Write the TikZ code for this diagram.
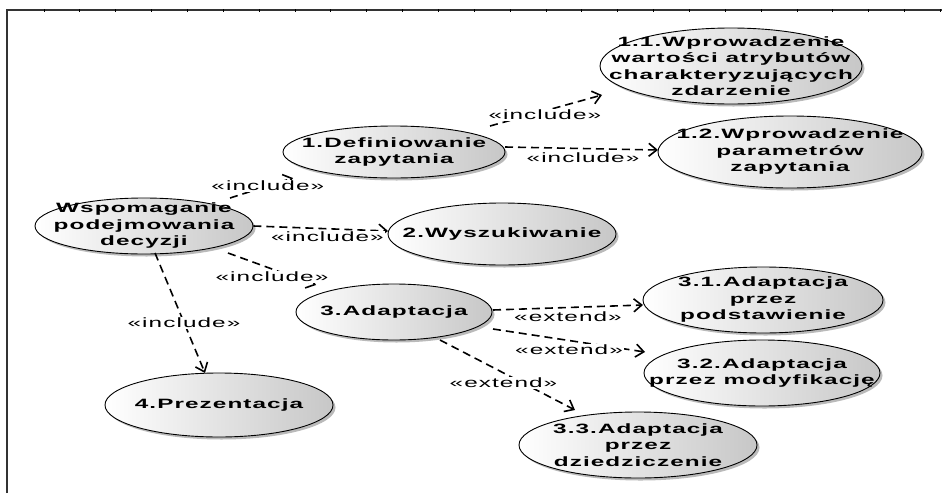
\documentclass[tikz,border=0pt]{standalone}
\usepackage{fontspec}
\setmainfont[FakeStretch=1.8,LetterSpace=8]{Liberation Sans}
\usetikzlibrary{shapes}
\usetikzlibrary{arrows.meta}
\usetikzlibrary{shadows}

\begin{document}
\begin{tikzpicture}[x=1pt,y=-1pt]
	\tikzstyle{usecase}=[ellipse,draw,line width=0.9pt,left color=white,right color=black!22,drop shadow={shadow xshift=2.5pt,shadow yshift=-2.5pt,fill=black!45,opacity=0.6},font=\fontsize{13.5}{16.5}\selectfont\bfseries,align=center,inner xsep=-45pt,inner ysep=-14pt]
	\tikzstyle{dep}=[dash pattern=on 8pt off 5pt,line width=1.6pt,-{Straight Barb[length=8pt,width=13pt]}]
	\tikzstyle{lbl}=[fill=white,inner sep=1pt,font=\fontsize{13.5}{16}\selectfont]
	\useasboundingbox (0,0) rectangle (942,493);
	\draw[line width=1.6pt,black!80] (7,493) -- (7,10) -- (942,10);
	\foreach \k in {0,...,25}
		\draw[line width=1pt] (44+35.86*\k,9) -- (44+35.86*\k,12);
	\node[usecase,minimum width=218pt,minimum height=56pt] (wsp) at (144,226) {Wspomaganie\\podejmowania\\decyzji};
	\node[usecase,minimum width=222pt,minimum height=52pt] (def) at (394,152) {1.Definiowanie\\zapytania};
	\node[usecase,minimum width=262pt,minimum height=76pt] (p11) at (731,66) {1.1.Wprowadzenie\\wartości atrybutów\\charakteryzujących\\zdarzenie};
	\node[usecase,minimum width=264pt,minimum height=72pt] (p12) at (790,152) {1.2.Wprowadzenie\\parametrów\\zapytania};
	\node[usecase,minimum width=228pt,minimum height=62pt] (wysz) at (502,234) {2.Wyszukiwanie};
	\node[usecase,minimum width=196pt,minimum height=56pt] (ad) at (394,312) {3.Adaptacja};
	\node[usecase,minimum width=240pt,minimum height=66pt] (a31) at (763,300) {3.1.Adaptacja\\przez\\podstawienie};
	\node[usecase,minimum width=236pt,minimum height=66pt] (a32) at (762,373) {3.2.Adaptacja\\przez modyfikację};
	\node[usecase,minimum width=238pt,minimum height=66pt] (a33) at (638,445) {3.3.Adaptacja\\przez\\dziedziczenie};
	\node[usecase,minimum width=228pt,minimum height=64pt] (prez) at (219,405) {4.Prezentacja};
	\draw[dep] ([shift={(86,-28)}]wsp.center) -- node[lbl,pos=0.6] (i1) {«include»} ([shift={(-101,26)}]def.center);
	\draw[dep] (wsp.east) -- node[lbl,pos=0.55,below=1pt] (i2) {«include»} ([shift={(-114,-3)}]wysz.center);
	\draw[dep] ([shift={(84,27)}]wsp.center) -- node[lbl,pos=0.5,below=1pt] (i3) {«include»} ([shift={(-78,-27)}]ad.center);
	\draw[dep] ([shift={(11,27)}]wsp.center) -- node[lbl,pos=0.58] (i4) {«include»} ([shift={(-14,-32)}]prez.center);
	\draw[dep] ([shift={(96,-26)}]def.center) -- node[lbl,pos=0.49,yshift=-4pt] (i5) {«include»} ([shift={(-129,29)}]p11.center);
	\draw[dep] ([shift={(111,-5)}]def.center) -- node[lbl,pos=0.51,below=2pt] (i6) {«include»} ([shift={(-132,-2)}]p12.center);
	\draw[dep] ([shift={(99,-2)}]ad.center) -- node[lbl,pos=0.5,below=2pt] (e1) {«extend»} ([shift={(-120,5)}]a31.center);
	\draw[dep] ([shift={(99,17)}]ad.center) -- node[lbl,pos=0.5,below=2.5pt] (e2) {«extend»} ([shift={(-117,-21)}]a32.center);
	\draw[dep] ([shift={(46,28)}]ad.center) -- node[lbl,pos=0.5,xshift=-4pt,yshift=-8pt] (e3) {«extend»} ([shift={(-63,-35)}]a33.center);
\end{tikzpicture}
\end{document}
